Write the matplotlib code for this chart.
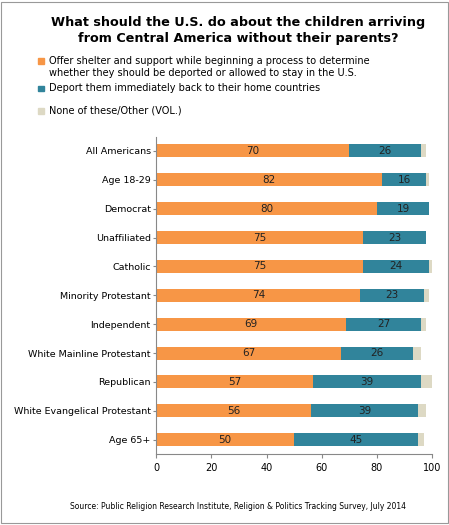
import matplotlib.pyplot as plt
from matplotlib.patches import Rectangle

groups = ["All Americans", "Age 18-29", "Democrat", "Unaffiliated", "Catholic",
          "Minority Protestant", "Independent", "White Mainline Protestant",
          "Republican", "White Evangelical Protestant", "Age 65+"]
shelter = [70, 82, 80, 75, 75, 74, 69, 67, 57, 56, 50]
deport = [26, 16, 19, 23, 24, 23, 27, 26, 39, 39, 45]
other = [2, 1, 0, 0, 1, 2, 2, 3, 4, 3, 2]

orange = "#F79646"
blue = "#31849B"
grey = "#DDD9C4"

fig = plt.figure(figsize=(4.49, 5.25), dpi=100)
fig.patches.append(Rectangle((0.003, 0.003), 0.994, 0.994, transform=fig.transFigure,
                             fill=False, edgecolor="#999999", lw=0.8))
ax = fig.add_axes([0.348, 0.135, 0.614, 0.605])

y = list(range(len(groups)))
ax.barh(y, shelter, height=0.45, color=orange)
ax.barh(y, deport, left=shelter, height=0.45, color=blue)
ax.barh(y, other, left=[s + d for s, d in zip(shelter, deport)], height=0.45, color=grey)
for i in y:
    ax.text(shelter[i] / 2, i, str(shelter[i]), ha="center", va="center", fontsize=7.5, color="#222222")
    ax.text(shelter[i] + deport[i] / 2, i, str(deport[i]), ha="center", va="center", fontsize=7.5, color="#222222")

ax.set_yticks(y)
ax.set_yticklabels(groups, fontsize=6.8)
ax.set_ylim(len(groups) - 0.5, -0.5)
ax.set_xlim(0, 100)
ax.set_xticks([0, 20, 40, 60, 80, 100])
ax.tick_params(axis="x", labelsize=7, length=3, color="#888888")
ax.tick_params(axis="y", length=2, pad=2, color="#888888")
for s in ["top", "right"]:
    ax.spines[s].set_visible(False)
for s in ["left", "bottom"]:
    ax.spines[s].set_color("#888888")

fig.text(0.53, 0.97, "What should the U.S. do about the children arriving\nfrom Central America without their parents?",
         ha="center", va="top", fontsize=9.2, fontweight="bold", linespacing=1.3)

# legend drawn by hand so it sits above the axes like the original
labels = ["Offer shelter and support while beginning a process to determine\nwhether they should be deported or allowed to stay in the U.S.",
          "Deport them immediately back to their home countries",
          "None of these/Other (VOL.)"]
for c, yy in zip([orange, blue, grey], [0.885, 0.833, 0.79]):
    fig.patches.append(Rectangle((0.085, yy - 0.007), 0.013, 0.011, transform=fig.transFigure, color=c))
fig.text(0.11, 0.893, labels[0], ha="left", va="top", fontsize=7, linespacing=1.2)
fig.text(0.11, 0.833, labels[1], ha="left", va="center", fontsize=7)
fig.text(0.11, 0.79, labels[2], ha="left", va="center", fontsize=7)

fig.text(0.53, 0.035, "Source: Public Religion Research Institute, Religion & Politics Tracking Survey, July 2014",
         ha="center", va="center", fontsize=5.5)

fig.savefig("out.png", dpi=100)
